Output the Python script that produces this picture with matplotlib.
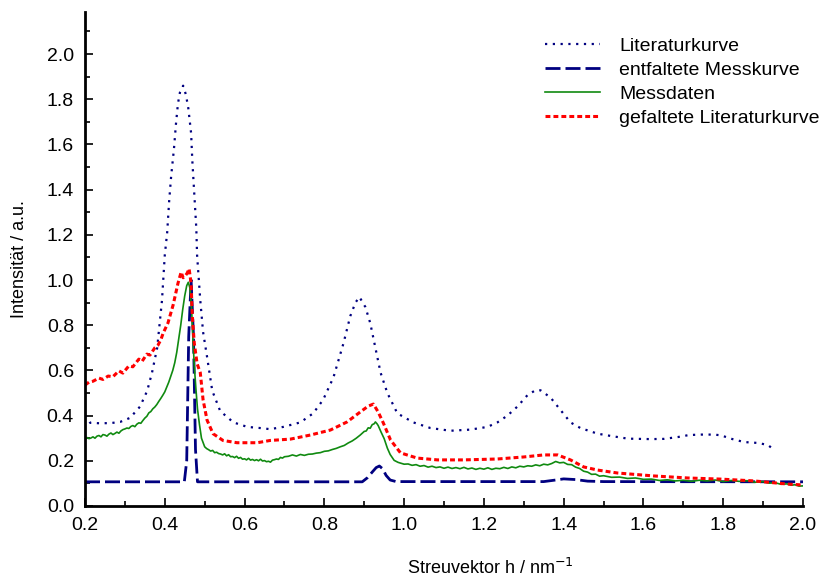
import matplotlib
matplotlib.use("Agg")
import matplotlib.pyplot as plt
from matplotlib.ticker import MultipleLocator

plt.rcParams['font.family'] = ['Liberation Sans', 'DejaVu Sans']

# Literaturkurve (dotted)
lit_x = [0.200, 0.213, 0.238, 0.265, 0.288, 0.313, 0.338, 0.356, 0.368, 0.381, 0.393, 0.400,
         0.406, 0.411, 0.416, 0.423, 0.428, 0.433, 0.438, 0.446, 0.453, 0.459, 0.466, 0.469,
         0.474, 0.479, 0.481, 0.489, 0.496, 0.506, 0.519, 0.539, 0.572, 0.607, 0.639, 0.664,
         0.697, 0.740, 0.772, 0.797, 0.823, 0.848, 0.865, 0.878, 0.888, 0.903, 0.915, 0.928,
         0.941, 0.958, 0.983, 1.023, 1.066, 1.116, 1.166, 1.209, 1.234, 1.259, 1.284, 1.309,
         1.329, 1.342, 1.367, 1.392, 1.417, 1.442, 1.485, 1.518, 1.561, 1.618, 1.651, 1.686,
         1.714, 1.744, 1.776, 1.794, 1.819, 1.852, 1.887, 1.912, 1.925]
lit_y = [0.400, 0.368, 0.366, 0.367, 0.372, 0.390, 0.440, 0.510, 0.590, 0.700, 0.910, 1.110,
         1.210, 1.350, 1.460, 1.580, 1.690, 1.780, 1.830, 1.860, 1.820, 1.760, 1.650, 1.530,
         1.380, 1.230, 1.110, 0.910, 0.770, 0.660, 0.510, 0.420, 0.370, 0.350, 0.345, 0.340,
         0.350, 0.370, 0.410, 0.470, 0.570, 0.720, 0.840, 0.900, 0.925, 0.880, 0.810, 0.700,
         0.590, 0.500, 0.410, 0.370, 0.345, 0.333, 0.338, 0.350, 0.370, 0.400, 0.440, 0.490,
         0.512, 0.512, 0.480, 0.425, 0.370, 0.345, 0.320, 0.310, 0.298, 0.296, 0.297, 0.305,
         0.314, 0.316, 0.316, 0.313, 0.298, 0.283, 0.279, 0.270, 0.252]

# entfaltete Messkurve (long dashes)
ent_x = [0.200, 0.449, 0.455, 0.460, 0.466, 0.472, 0.477, 0.482, 0.895, 0.908, 0.920, 0.930,
         0.938, 0.946, 0.955, 0.965, 0.980, 1.350, 1.380, 1.400, 1.430, 1.460, 1.500, 2.000]
ent_y = [0.107, 0.107, 0.200, 0.750, 1.000, 0.750, 0.250, 0.107, 0.107, 0.125, 0.150, 0.170,
         0.177, 0.165, 0.135, 0.115, 0.108, 0.108, 0.115, 0.120, 0.117, 0.110, 0.108, 0.107]

# Messdaten (solid, noisy)
mess_x = [0.200, 0.205, 0.210, 0.215, 0.220, 0.225, 0.230, 0.235, 0.240, 0.245, 0.250, 0.255,
          0.260, 0.265, 0.270, 0.275, 0.280, 0.285, 0.290, 0.295, 0.300, 0.305, 0.310, 0.315,
          0.320, 0.325, 0.330, 0.335, 0.340, 0.345, 0.350, 0.355, 0.360, 0.365, 0.370, 0.375,
          0.380, 0.385, 0.390, 0.395, 0.400, 0.405, 0.410, 0.415, 0.420, 0.425, 0.430, 0.435,
          0.440, 0.445, 0.450, 0.455, 0.459, 0.463, 0.467, 0.470, 0.474, 0.478, 0.482, 0.487,
          0.492, 0.500, 0.505, 0.510, 0.515, 0.520, 0.525, 0.530, 0.535, 0.540, 0.545, 0.550,
          0.555, 0.560, 0.565, 0.570, 0.575, 0.580, 0.585, 0.590, 0.595, 0.600, 0.605, 0.610,
          0.615, 0.620, 0.625, 0.630, 0.635, 0.640, 0.645, 0.650, 0.655, 0.660, 0.665, 0.670,
          0.675, 0.680, 0.685, 0.690, 0.695, 0.700, 0.710, 0.720, 0.730, 0.740, 0.750, 0.760,
          0.770, 0.780, 0.790, 0.800, 0.810, 0.820, 0.830, 0.840, 0.850, 0.860, 0.870, 0.880,
          0.890, 0.900, 0.905, 0.910, 0.915, 0.920, 0.925, 0.928, 0.932, 0.935, 0.942, 0.950,
          0.958, 0.965, 0.975, 0.985, 1.000, 1.010, 1.020, 1.030, 1.040, 1.050, 1.060, 1.070,
          1.080, 1.090, 1.100, 1.110, 1.120, 1.130, 1.140, 1.150, 1.160, 1.170, 1.180, 1.190,
          1.200, 1.210, 1.220, 1.230, 1.240, 1.250, 1.260, 1.270, 1.280, 1.290, 1.300, 1.310,
          1.320, 1.330, 1.340, 1.350, 1.360, 1.370, 1.380, 1.390, 1.400, 1.410, 1.420, 1.430,
          1.440, 1.450, 1.460, 1.470, 1.480, 1.490, 1.500, 1.520, 1.540, 1.560, 1.580, 1.600,
          1.620, 1.640, 1.660, 1.680, 1.700, 1.720, 1.740, 1.760, 1.780, 1.800, 1.820, 1.840,
          1.860, 1.880, 1.900, 1.915, 1.930, 1.945, 1.960, 1.970, 1.980, 1.990, 2.000]
mess_y = [0.292, 0.303, 0.298, 0.301, 0.306, 0.300, 0.309, 0.312, 0.306, 0.316, 0.314, 0.309,
          0.318, 0.323, 0.316, 0.321, 0.327, 0.322, 0.332, 0.338, 0.341, 0.345, 0.343, 0.352,
          0.356, 0.351, 0.362, 0.368, 0.366, 0.378, 0.389, 0.397, 0.412, 0.418, 0.430, 0.438,
          0.449, 0.463, 0.476, 0.490, 0.505, 0.527, 0.548, 0.574, 0.600, 0.634, 0.680, 0.740,
          0.800, 0.870, 0.930, 0.975, 0.990, 0.965, 0.880, 0.760, 0.620, 0.520, 0.430, 0.360,
          0.300, 0.262, 0.254, 0.249, 0.243, 0.246, 0.236, 0.238, 0.232, 0.230, 0.226, 0.231,
          0.222, 0.227, 0.218, 0.219, 0.214, 0.220, 0.211, 0.215, 0.207, 0.209, 0.204, 0.211,
          0.203, 0.206, 0.201, 0.205, 0.200, 0.207, 0.199, 0.201, 0.196, 0.198, 0.194, 0.203,
          0.205, 0.208, 0.206, 0.215, 0.212, 0.218, 0.220, 0.226, 0.221, 0.228, 0.224, 0.229,
          0.230, 0.234, 0.236, 0.242, 0.244, 0.250, 0.255, 0.262, 0.268, 0.279, 0.288, 0.300,
          0.314, 0.330, 0.332, 0.346, 0.344, 0.360, 0.364, 0.372, 0.364, 0.356, 0.328, 0.298,
          0.256, 0.228, 0.202, 0.193, 0.185, 0.186, 0.180, 0.183, 0.176, 0.179, 0.172, 0.176,
          0.170, 0.173, 0.167, 0.172, 0.166, 0.170, 0.165, 0.171, 0.164, 0.168, 0.162, 0.167,
          0.163, 0.169, 0.162, 0.167, 0.165, 0.171, 0.166, 0.173, 0.169, 0.176, 0.173, 0.178,
          0.176, 0.182, 0.178, 0.185, 0.182, 0.188, 0.197, 0.191, 0.193, 0.184, 0.183, 0.172,
          0.166, 0.154, 0.150, 0.140, 0.141, 0.132, 0.134, 0.127, 0.128, 0.122, 0.124, 0.118,
          0.119, 0.113, 0.116, 0.111, 0.114, 0.109, 0.114, 0.111, 0.115, 0.108, 0.113, 0.109,
          0.112, 0.105, 0.108, 0.101, 0.103, 0.096, 0.098, 0.092, 0.094, 0.088, 0.089]

# gefaltete Literaturkurve (short dashes)
gef_x = [0.200, 0.210, 0.220, 0.235, 0.245, 0.258, 0.270, 0.285, 0.295, 0.310, 0.320, 0.335,
         0.343, 0.355, 0.363, 0.375, 0.383, 0.390, 0.396, 0.408, 0.421, 0.433, 0.441, 0.446,
         0.452, 0.456, 0.461, 0.466, 0.469, 0.474, 0.481, 0.489, 0.496, 0.506, 0.521, 0.546,
         0.581, 0.632, 0.664, 0.715, 0.765, 0.815, 0.857, 0.890, 0.910, 0.923, 0.935, 0.948,
         0.966, 0.991, 1.033, 1.084, 1.149, 1.234, 1.300, 1.350, 1.385, 1.417, 1.450, 1.485,
         1.535, 1.626, 1.711, 1.794, 1.877, 1.962, 2.000]
gef_y = [0.535, 0.548, 0.552, 0.566, 0.560, 0.575, 0.572, 0.598, 0.588, 0.620, 0.616, 0.650,
         0.640, 0.672, 0.668, 0.700, 0.712, 0.735, 0.765, 0.810, 0.890, 0.985, 1.035, 1.010,
         1.020, 1.030, 1.050, 0.985, 0.840, 0.720, 0.630, 0.590, 0.470, 0.380, 0.320, 0.290,
         0.280, 0.280, 0.290, 0.296, 0.314, 0.336, 0.372, 0.416, 0.442, 0.451, 0.416, 0.367,
         0.292, 0.235, 0.212, 0.204, 0.204, 0.208, 0.217, 0.226, 0.226, 0.204, 0.173, 0.159,
         0.146, 0.133, 0.124, 0.119, 0.111, 0.097, 0.093]

navy = '#000080'
green = '#108a10'
red = '#ff0000'

fig = plt.figure(figsize=(8.19, 5.77), dpi=100)
ax = fig.add_axes([85 / 819, 1 - 506 / 577, 718 / 819, 494 / 577])

ax.plot(lit_x, lit_y, color=navy, lw=1.6, linestyle=(0, (1, 2.5)), label='Literaturkurve')
ax.plot(ent_x, ent_y, color=navy, lw=2.0, linestyle=(0, (5.4, 1.8)), label='entfaltete Messkurve')
ax.plot(mess_x, mess_y, color=green, lw=1.2, label='Messdaten')
ax.plot(gef_x, gef_y, color=red, lw=2.2, linestyle=(0, (1.6, 1.0)), label='gefaltete Literaturkurve')

ax.set_xlim(0.2, 2.0)
ax.set_ylim(0.0, 2.186)
ax.set_xticks([0.2, 0.4, 0.6, 0.8, 1.0, 1.2, 1.4, 1.6, 1.8, 2.0])
ax.set_yticks([0.0, 0.2, 0.4, 0.6, 0.8, 1.0, 1.2, 1.4, 1.6, 1.8, 2.0])
ax.xaxis.set_minor_locator(MultipleLocator(0.1))
ax.yaxis.set_minor_locator(MultipleLocator(0.1))
ax.tick_params(which='both', direction='in', width=1.2, labelsize=14, colors='black')
ax.tick_params(which='major', length=6)
ax.tick_params(which='minor', length=3.5)
ax.tick_params(axis='x', pad=8)
ax.tick_params(axis='y', pad=8)

ax.spines['top'].set_visible(False)
ax.spines['right'].set_visible(False)
ax.spines['left'].set_linewidth(2)
ax.spines['bottom'].set_linewidth(2)

ax.set_ylabel('Intensität / a.u.', fontsize=13)
ax.set_xlabel('Streuvektor h / nm$^{-1}$', fontsize=13)
ax.yaxis.set_label_coords(-0.079, 0.5)
ax.xaxis.set_label_coords((490 - 85) / 718, -0.106)

ax.legend(loc='upper left', bbox_to_anchor=(545 / 819, 1 - 37 / 577),
          bbox_transform=fig.transFigure, frameon=False, fontsize=14,
          handlelength=2.85, handletextpad=0.95, labelspacing=0.34,
          borderpad=0, borderaxespad=0)

fig.savefig('out.png', dpi=100)
